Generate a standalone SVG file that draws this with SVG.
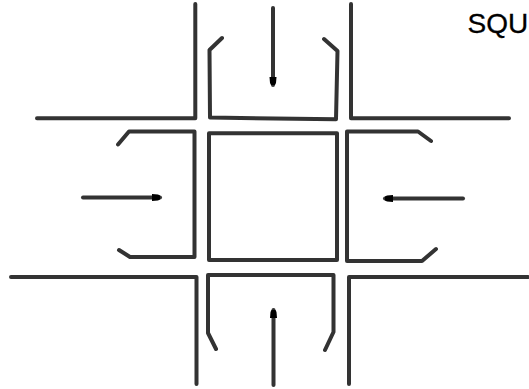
<svg xmlns="http://www.w3.org/2000/svg" width="529" height="389" viewBox="0 0 529 389">
<style>
.l{fill:none;stroke:#333;stroke-width:4;stroke-linecap:round;stroke-linejoin:round}
.t{font-family:"Liberation Sans",Arial,sans-serif;font-size:28px;fill:#000;stroke:#000;stroke-width:.3px}
</style>
<defs>
<marker id="a" markerUnits="userSpaceOnUse" markerWidth="10" markerHeight="10" refX="8" refY="5" orient="auto"><path d="M0 1.500L6 2L8 3V7L6 8L0 8.500Z" fill="#000"/></marker>
</defs>
<rect width="529" height="389" fill="#fff"/>
<g id="roads">
<path class="l" d="M195.300 4V118.300H37"/>
<path class="l" d="M351 4V118.300H509"/>
<path class="l" d="M11 277H196.500V384"/>
<path class="l" d="M528 277H349V384"/>
</g>
<g id="center"><path class="l" d="M209 133.300H337V260H209Z"/></g>
<g id="top-lane"><path class="l" d="M222 38L209.500 50L210 117.500L336 119.300L337.500 51L324 39"/></g>
<g id="left-lane"><path class="l" d="M118 144.500L129 131.500H194.500V257H130L119 250"/></g>
<g id="right-lane"><path class="l" d="M431 141L418 131.500H347V261H422L436 249"/></g>
<g id="bottom-lane"><path class="l" d="M216 349L208 333V275H333.500V332L325 350"/></g>
<g id="connectors">
<path class="l" d="M273 8V85" marker-end="url(#a)"/>
<path class="l" d="M83 197.500H160" marker-end="url(#a)"/>
<path class="l" d="M463 198.500H385" marker-end="url(#a)"/>
<path class="l" d="M273.500 385V310" marker-end="url(#a)"/>
</g>
<text class="t" x="467.500" y="32.500">SQU</text>
</svg>
